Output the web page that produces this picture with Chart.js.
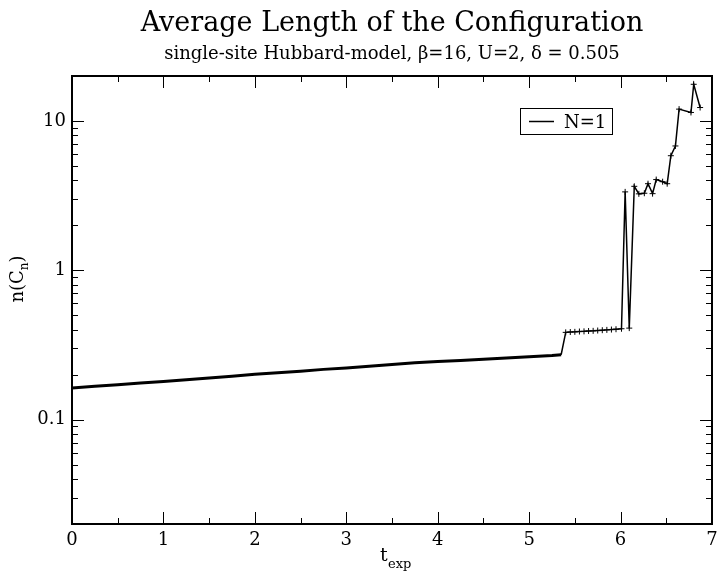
<!DOCTYPE html>
<html>
<head>
<meta charset="utf-8">
<script src="https://cdn.jsdelivr.net/npm/chart.js@4.4.1/dist/chart.umd.min.js"></script>
<style>
html, body { margin: 0; padding: 0; background: #fff; }
#wrap { width: 717px; height: 573px; }
</style>
</head>
<body>
<div id="wrap"><canvas id="lengthChart"></canvas></div>
<script>
// t_exp values and average length n(C_n)
const texp = [
    0, 0.25, 0.5, 0.75, 1, 1.25, 1.5, 1.75, 2, 2.25, 2.5, 2.75, 3, 3.25,
    3.5, 3.75, 4, 4.25, 4.5, 4.75, 5, 5.25, 5.35,
    5.40, 5.45, 5.50, 5.55, 5.60, 5.65, 5.70, 5.75, 5.80, 5.85, 5.90, 5.95, 6.01,
    6.05, 6.095, 6.15, 6.20, 6.26, 6.30, 6.35, 6.39, 6.46, 6.51, 6.55, 6.60,
    6.64, 6.77, 6.80, 6.87
]
const avgLength = [
    0.163, 0.167, 0.171, 0.176, 0.180, 0.185, 0.190, 0.195, 0.201, 0.206, 0.211,
    0.217, 0.222, 0.228, 0.234, 0.240, 0.245, 0.249, 0.254, 0.259, 0.264, 0.269, 0.272,
    0.384, 0.386, 0.387, 0.389, 0.390, 0.392, 0.393, 0.395, 0.397, 0.399, 0.401, 0.403, 0.406,
    3.35, 0.41, 3.65, 3.25, 3.28, 3.80, 3.26, 4.05, 3.92, 3.80, 5.85, 6.8,
    12.0, 11.4, 17.6, 12.3
]
const xTicks = [0, 1, 2, 3, 4, 5, 6, 7]
const yTicks = [0.1, 1, 10]
const seriesLabel = 'N=1'

const serif = '"DejaVu Serif", serif'

const frame = {
    id: 'frame',
    afterDraw(chart) {
        const { ctx, chartArea: a, scales: { x, y } } = chart
        ctx.save()
        ctx.strokeStyle = '#000'
        ctx.lineWidth = 1

        const seg = (x1, y1, x2, y2) => {
            ctx.beginPath()
            ctx.moveTo(x1, y1)
            ctx.lineTo(x2, y2)
            ctx.stroke()
        }

        // x ticks, bottom and top, pointing inward
        for (let v = 0; v <= 7; v += 0.5) {
            const px = Math.round(x.getPixelForValue(v)) + 0.5
            const len = Number.isInteger(v) ? 12 : 6
            seg(px, a.bottom, px, a.bottom - len)
            seg(px, a.top, px, a.top + len)
        }

        // y ticks, log decades with minor ticks
        for (let d = 0.01; d <= 10; d *= 10) {
            for (let m = 1; m <= 9; m++) {
                const v = d * m
                if (v < y.min || v > y.max) continue
                const py = Math.round(y.getPixelForValue(v)) + 0.5
                const len = m === 1 ? 12 : 6
                seg(a.left, py, a.left + len, py)
                seg(a.right, py, a.right - len, py)
            }
        }

        ctx.lineWidth = 2
        ctx.strokeRect(a.left, a.top, a.right - a.left, a.bottom - a.top)

        // legend
        ctx.lineWidth = 1
        ctx.strokeRect(520.5, 108.5, 92, 26)
        ctx.lineWidth = 1.5
        seg(529, 121.5, 554, 121.5)
        ctx.fillStyle = '#000'
        ctx.font = '18px ' + serif
        ctx.textBaseline = 'alphabetic'
        ctx.textAlign = 'left'
        ctx.fillText(seriesLabel, 564, 128)

        // x axis title: t_exp
        ctx.font = '19px ' + serif
        ctx.fillText('t', 380, 561)
        ctx.font = '13px ' + serif
        ctx.fillText('exp', 388, 568)

        // y axis title: n(C_n)
        ctx.translate(23, 279)
        ctx.rotate(-Math.PI / 2)
        const main = 'n(C'
        const sub = 'n'
        ctx.font = '18px ' + serif
        const w1 = ctx.measureText(main).width
        ctx.font = '12px ' + serif
        const w2 = ctx.measureText(sub).width
        ctx.font = '18px ' + serif
        const w3 = ctx.measureText(')').width
        const sx = -(w1 + w2 + w3) / 2
        ctx.fillText(main, sx, 0)
        ctx.font = '12px ' + serif
        ctx.fillText(sub, sx + w1, 5)
        ctx.font = '18px ' + serif
        ctx.fillText(')', sx + w1 + w2, 0)

        ctx.restore()
    }
}

new Chart(document.getElementById('lengthChart'), {
    type: 'line',

    data: {
        datasets: [
            {
                label: seriesLabel,
                data: texp.map((t, i) => ({ x: t, y: avgLength[i] })),
                borderColor: '#000',
                backgroundColor: '#000',
                borderWidth: 1.5,
                pointStyle: 'cross',
                pointBorderWidth: 1,
                pointRadius: ctx => ctx.parsed && ctx.parsed.x < 5.38 ? 0 : 3,
                segment: {
                    borderWidth: ctx => ctx.p1.parsed.x <= 5.35 ? 3 : 1.5
                },
                tension: 0,
                fill: false
            }
        ]
    },

    options: {
        responsive: true,
        maintainAspectRatio: false,
        animation: false,
        devicePixelRatio: 1,

        layout: {
            padding: { top: 0, right: 4, left: 0, bottom: 0 }
        },

        plugins: {
            legend: { display: false },
            tooltip: { enabled: false },
            title: {
                display: true,
                text: 'Average Length of the Configuration',
                fullSize: false,
                color: '#000',
                font: { family: serif, size: 27, weight: 'normal' },
                padding: { top: 8, bottom: 0 }
            },
            subtitle: {
                display: true,
                text: 'single-site Hubbard-model, β=16, U=2, δ = 0.505',
                fullSize: false,
                color: '#000',
                font: { family: serif, size: 18, weight: 'normal' },
                padding: { top: 3, bottom: 11 }
            }
        },

        scales: {
            x: {
                type: 'linear',
                min: 0,
                max: 7,
                grid: { display: false, drawTicks: false },
                border: { display: false },
                afterBuildTicks: scale => {
                    scale.ticks = xTicks.map(v => ({ value: v }))
                },
                afterFit: scale => {
                    scale.height = 49
                    scale.paddingLeft = 0
                    scale.paddingRight = 0
                },
                ticks: {
                    color: '#000',
                    padding: 6,
                    maxRotation: 0,
                    font: { family: serif, size: 18 }
                }
            },
            y: {
                type: 'logarithmic',
                min: 0.02,
                max: 20,
                grid: { display: false, drawTicks: false },
                border: { display: false },
                afterBuildTicks: scale => {
                    scale.ticks = yTicks.map(v => ({ value: v }))
                },
                afterFit: scale => {
                    scale.width = 72
                },
                ticks: {
                    color: '#000',
                    padding: 6,
                    font: { family: serif, size: 18 },
                    callback: v => String(v)
                }
            }
        }
    },

    plugins: [frame]
})
</script>
</body>
</html>
